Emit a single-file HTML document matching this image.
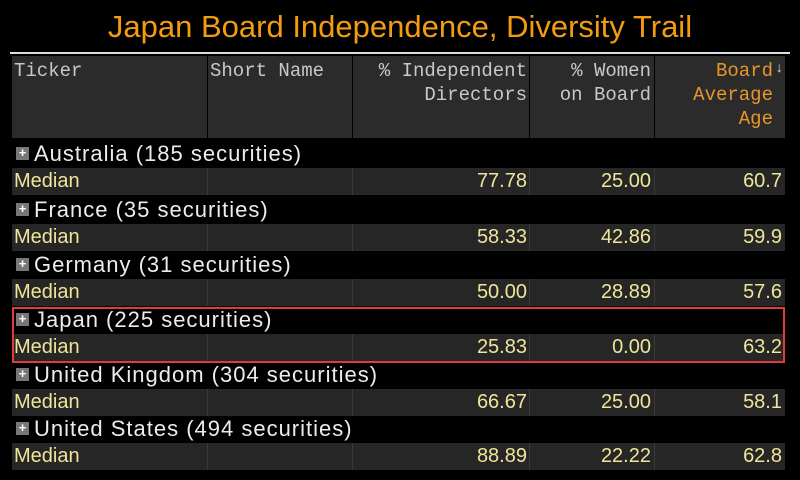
<!DOCTYPE html>
<html><head><meta charset="utf-8"><style>
body{margin:0;width:800px;height:480px;background:#000;overflow:hidden;position:relative;font-family:"Liberation Sans",sans-serif}
.a{position:absolute;white-space:nowrap}
.title{left:0;width:800px;top:8px;text-align:center;color:#f39c12;font-size:31px;line-height:38px}
.hdr{position:absolute;top:56px;height:82px;background:#2b2b2b}
.h{position:absolute;font-family:"Liberation Mono",monospace;font-size:19px;line-height:24px;color:#c8c8c8;white-space:pre}
.med{position:absolute;left:12px;width:773px;height:27px;background:#262626}
.med i{position:absolute;top:0;width:1px;height:27px;background:#3a3a3a}
.g{position:absolute;left:34px;color:#ececec;font-size:22px;letter-spacing:1px;line-height:26px;white-space:nowrap}
.pl{position:absolute;left:16px;width:13px;height:13px;background:#777;color:#fff;font-size:13px;line-height:12px;text-align:center;font-weight:bold}
.m{position:absolute;color:#efe59a;font-size:20px;line-height:27px}
.r{text-align:right}
</style></head><body>
<div class="a title">Japan Board Independence, Diversity Trail</div>
<div class="a" style="left:10px;top:52px;width:780px;height:2px;background:#ddd"></div>
<div class="hdr" style="left:12px;width:195px"></div>
<div class="hdr" style="left:208px;width:144px"></div>
<div class="hdr" style="left:353px;width:176px"></div>
<div class="hdr" style="left:530px;width:124px"></div>
<div class="hdr" style="left:655px;width:130px"></div>
<div class="h" style="left:14px;top:59px">Ticker</div>
<div class="h" style="left:210px;top:59px">Short Name</div>
<div class="h r" style="left:353px;width:174px;top:59px">% Independent
Directors</div>
<div class="h r" style="left:530px;width:121px;top:59px">% Women
on Board</div>
<div class="h r" style="left:655px;width:118px;top:59px;color:#e8952a">Board
Average
Age</div>
<div class="h" style="left:775px;top:57px;font-size:14px;color:#ddd">↓</div>

<div class="med" style="top:168px"><i style="left:195px"></i><i style="left:340px"></i><i style="left:517px"></i><i style="left:642px"></i></div>
<div class="med" style="top:224px"><i style="left:195px"></i><i style="left:340px"></i><i style="left:517px"></i><i style="left:642px"></i></div>
<div class="med" style="top:279px"><i style="left:195px"></i><i style="left:340px"></i><i style="left:517px"></i><i style="left:642px"></i></div>
<div class="med" style="top:334px"><i style="left:195px"></i><i style="left:340px"></i><i style="left:517px"></i><i style="left:642px"></i></div>
<div class="med" style="top:389px"><i style="left:195px"></i><i style="left:340px"></i><i style="left:517px"></i><i style="left:642px"></i></div>
<div class="med" style="top:443px"><i style="left:195px"></i><i style="left:340px"></i><i style="left:517px"></i><i style="left:642px"></i></div>

<div class="pl" style="top:147px">+</div><div class="g" style="top:141px">Australia (185 securities)</div>
<div class="pl" style="top:203px">+</div><div class="g" style="top:197px">France (35 securities)</div>
<div class="pl" style="top:258px">+</div><div class="g" style="top:252px">Germany (31 securities)</div>
<div class="pl" style="top:313px">+</div><div class="g" style="top:307px">Japan (225 securities)</div>
<div class="pl" style="top:368px">+</div><div class="g" style="top:362px">United Kingdom (304 securities)</div>
<div class="pl" style="top:422px">+</div><div class="g" style="top:416px">United States (494 securities)</div>

<div class="m" style="left:14px;top:168px">Median</div>
<div class="m r" style="left:353px;width:174px;top:168px">77.78</div>
<div class="m r" style="left:530px;width:121px;top:168px">25.00</div>
<div class="m r" style="left:655px;width:127px;top:168px">60.7</div>

<div class="m" style="left:14px;top:224px">Median</div>
<div class="m r" style="left:353px;width:174px;top:224px">58.33</div>
<div class="m r" style="left:530px;width:121px;top:224px">42.86</div>
<div class="m r" style="left:655px;width:127px;top:224px">59.9</div>

<div class="m" style="left:14px;top:279px">Median</div>
<div class="m r" style="left:353px;width:174px;top:279px">50.00</div>
<div class="m r" style="left:530px;width:121px;top:279px">28.89</div>
<div class="m r" style="left:655px;width:127px;top:279px">57.6</div>

<div class="m" style="left:14px;top:334px">Median</div>
<div class="m r" style="left:353px;width:174px;top:334px">25.83</div>
<div class="m r" style="left:530px;width:121px;top:334px">0.00</div>
<div class="m r" style="left:655px;width:127px;top:334px">63.2</div>

<div class="m" style="left:14px;top:389px">Median</div>
<div class="m r" style="left:353px;width:174px;top:389px">66.67</div>
<div class="m r" style="left:530px;width:121px;top:389px">25.00</div>
<div class="m r" style="left:655px;width:127px;top:389px">58.1</div>

<div class="m" style="left:14px;top:443px">Median</div>
<div class="m r" style="left:353px;width:174px;top:443px">88.89</div>
<div class="m r" style="left:530px;width:121px;top:443px">22.22</div>
<div class="m r" style="left:655px;width:127px;top:443px">62.8</div>

<div class="a" style="left:12px;top:307px;width:769px;height:52px;border:2px solid #e03a3a"></div>
</body></html>
